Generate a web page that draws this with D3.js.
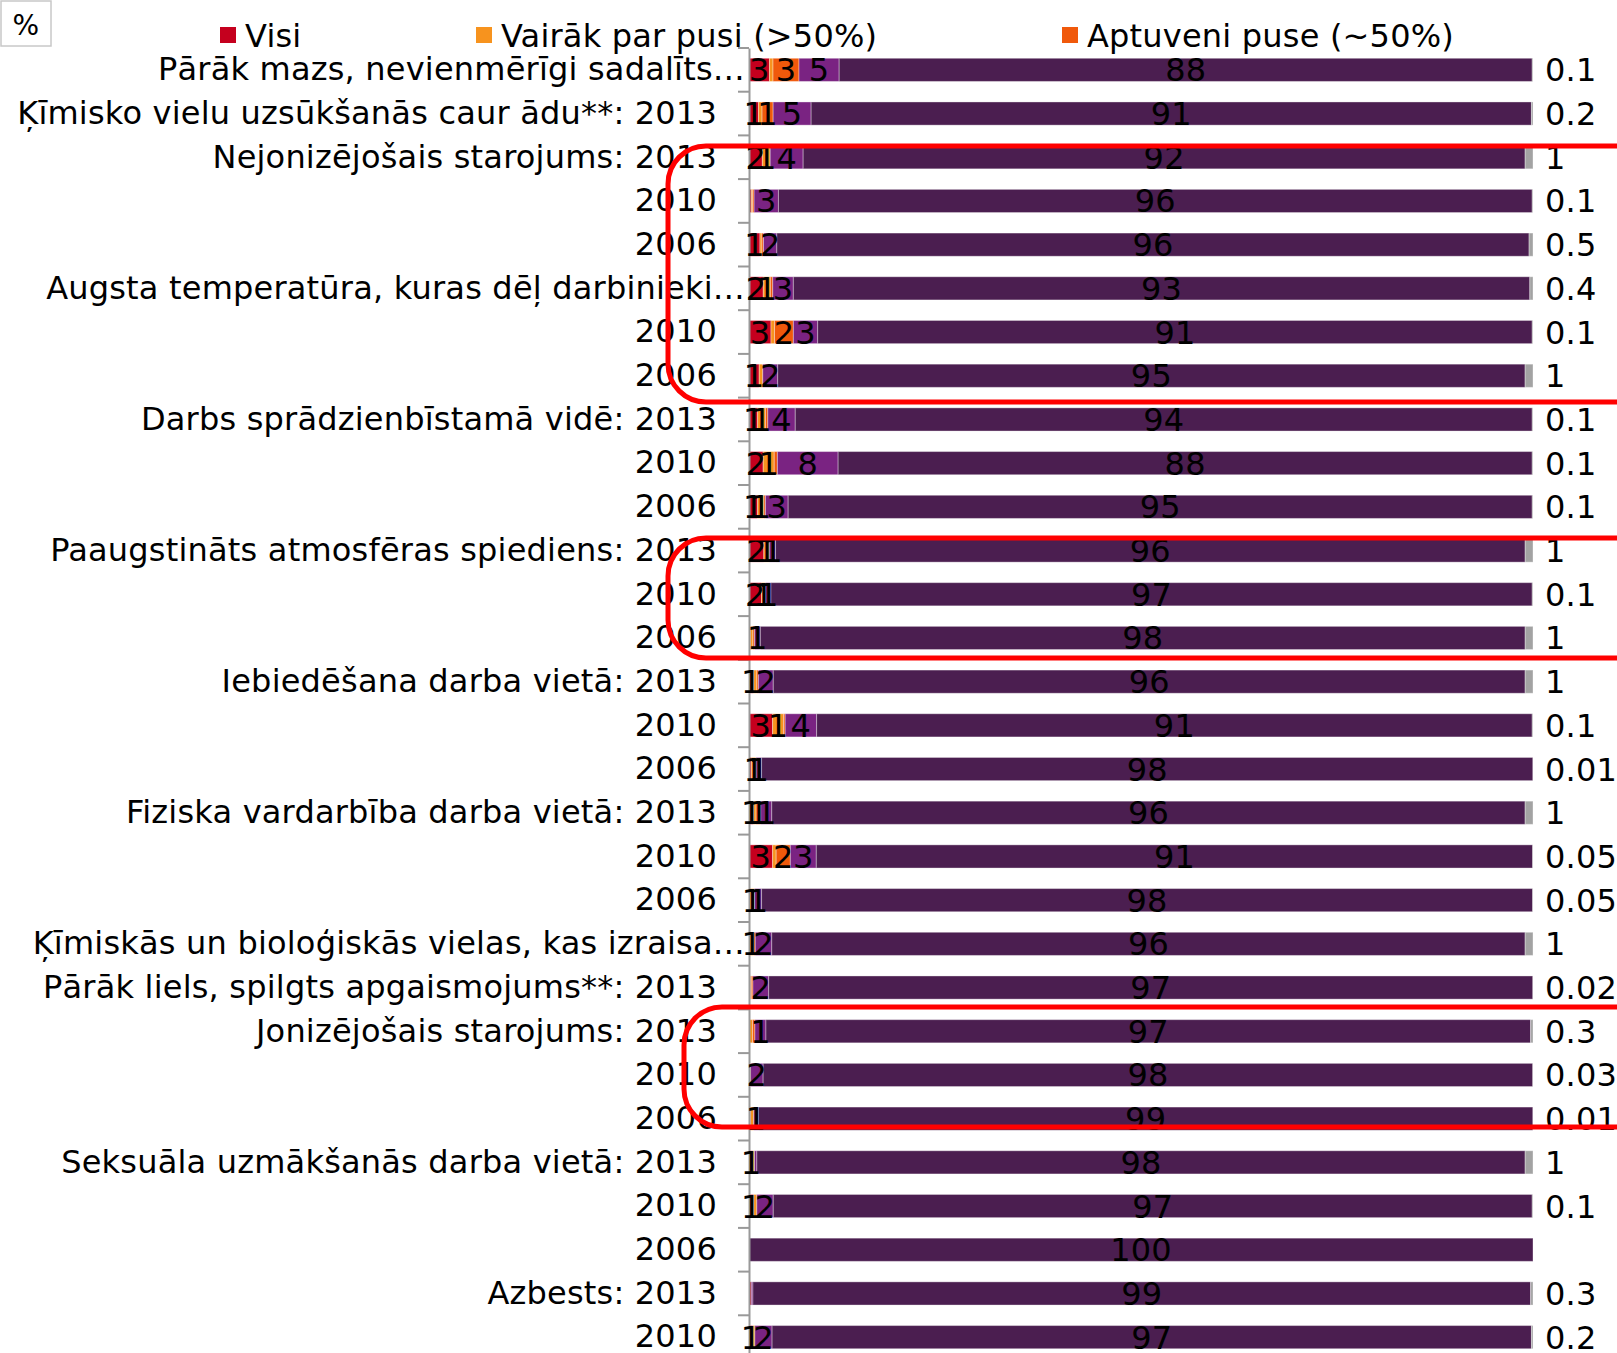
<!DOCTYPE html>
<html>
<head>
<meta charset="utf-8">
<script src="https://cdn.jsdelivr.net/npm/d3@7"></script>
<style>
  body { margin: 0; background: #fff; }
  svg { display: block; font-family: "DejaVu Sans", Verdana, sans-serif; letter-spacing: 0.2px; }
</style>
</head>
<body>
<div id="chart"></div>
<script>
// row labels (top to bottom)
const categories = [
    "Pārāk mazs, nevienmērīgi sadalīts…",
    "Ķīmisko vielu uzsūkšanās caur ādu**: 2013",
    "Nejonizējošais starojums: 2013", "2010", "2006",
    "Augsta temperatūra, kuras dēļ darbinieki…", "2010", "2006",
    "Darbs sprādzienbīstamā vidē: 2013", "2010", "2006",
    "Paaugstināts atmosfēras spiediens: 2013", "2010", "2006",
    "Iebiedēšana darba vietā: 2013", "2010", "2006",
    "Fiziska vardarbība darba vietā: 2013", "2010", "2006",
    "Ķīmiskās un bioloģiskās vielas, kas izraisa…",
    "Pārāk liels, spilgts apgaismojums**: 2013",
    "Jonizējošais starojums: 2013", "2010", "2006",
    "Seksuāla uzmākšanās darba vietā: 2013", "2010", "2006",
    "Azbests: 2013", "2010"
];

const seriesNames = ["Visi", "Vairāk par pusi (>50%)", "Aptuveni puse (~50%)",
    "Mazāk par pusi (<50%)", "Neviens", "Nezina"];

const visi      = [2.6, 1.2, 1.7, 0.3, 1.4, 1.8, 2.8, 1.3, 1.1, 1.8, 1.1, 1.9, 1.6, 0.2, 0.6, 3.0, 0.3, 0.6, 3.0, 0.1, 0.1, 0.2, 0, 0, 0.2, 0.5, 0.6, 0, 0.3, 0.5];
const vairak    = [0.45, 0.45, 1.0, 0.15, 0.25, 0.9, 0.45, 0.45, 1.0, 1.4, 0.8, 0.7, 0.5, 0.3, 0.4, 1.4, 0.6, 0.3, 0.45, 0.6, 0.5, 0.1, 0.45, 0.2, 0.4, 0.2, 0.4, 0, 0, 0.25];
const aptuveni  = [3.3, 1.4, 0, 0.2, 0.2, 0.3, 2.4, 0, 0.3, 0.4, 0.2, 0, 0, 0.2, 0.2, 0.2, 0, 0.6, 1.8, 0, 0.2, 0.2, 0.3, 0, 0, 0, 0, 0, 0, 0];
const mazak     = [5.1, 4.8, 4.2, 3.1, 1.7, 2.6, 3.1, 1.9, 3.5, 7.7, 2.9, 0.8, 0.7, 0.75, 1.9, 4.0, 0.7, 1.4, 3.3, 0.9, 2.1, 2.0, 1.4, 1.6, 0.6, 0.3, 2.1, 0, 0.2, 2.2];
const neviens   = [88, 91, 92, 96, 96, 93, 91, 95, 94, 88, 95, 96, 97, 98, 96, 91, 98, 96, 91, 98, 96, 97, 97, 98, 99, 98, 97, 100, 99, 97];
const nezina    = [0.1, 0.2, 1, 0.1, 0.5, 0.4, 0.1, 1, 0.1, 0.1, 0.1, 1, 0.1, 1, 1, 0.1, 0.01, 1, 0.05, 0.05, 1, 0.02, 0.3, 0.03, 0.01, 1, 0.1, 0, 0.3, 0.2];

const colors = ["#C5001E", "#F7931E", "#F0590B", "#7A2382", "#4B1E50", "#A3A3A3"];

const width = 1617, height = 1353;
const fontSize = 32;

const rows = categories.map((c, i) => ({
    idx: i,
    [seriesNames[0]]: visi[i],
    [seriesNames[1]]: vairak[i],
    [seriesNames[2]]: aptuveni[i],
    [seriesNames[3]]: mazak[i],
    [seriesNames[4]]: neviens[i],
    [seriesNames[5]]: nezina[i]
}));

const svg = d3.select("#chart").append("svg")
    .attr("width", width)
    .attr("height", height);

const x = d3.scaleLinear().domain([0, 1]).range([749, 1533]);
const y = d3.scaleBand()
    .domain(d3.range(categories.length))
    .range([48, 48 + 43.7 * categories.length])
    .paddingInner(0.47)
    .paddingOuter(0.235);

const stack = d3.stack().keys(seriesNames).offset(d3.stackOffsetExpand);
const stacked = stack(rows);

// bars
const layers = svg.append("g").selectAll("g")
    .data(stacked)
    .enter().append("g")
    .attr("fill", (d, i) => colors[i]);

layers.selectAll("rect")
    .data(d => d)
    .enter().append("rect")
    .attr("x", d => x(d[0]))
    .attr("y", d => y(d.data.idx))
    .attr("width", d => Math.max(0, x(d[1]) - x(d[0])))
    .attr("height", y.bandwidth())
    .attr("stroke", "#fff")
    .attr("stroke-opacity", 0.35)
    .attr("stroke-width", 1);

// category axis
const axis = d3.axisLeft(y)
    .tickSize(0)
    .tickPadding(32)
    .tickFormat(i => categories[i]);

const axisG = svg.append("g")
    .attr("transform", `translate(${x(0)},0)`)
    .call(axis);
axisG.select(".domain").attr("stroke", "#999").attr("stroke-width", 2);
axisG.selectAll("text")
    .attr("font-size", fontSize)
    .attr("fill", "#000")
    .attr("font-family", "DejaVu Sans, Verdana, sans-serif")
    // truncated labels run a bit closer to the axis
    .attr("dx", i => categories[i].endsWith("…") ? 28 : 0);

// tick marks on band boundaries
svg.append("g").selectAll("line")
    .data(d3.range(categories.length + 1))
    .enter().append("line")
    .attr("x1", x(0) - 11)
    .attr("x2", x(0))
    .attr("y1", i => 48 + 43.7 * i)
    .attr("y2", i => 48 + 43.7 * i)
    .attr("stroke", "#999")
    .attr("stroke-width", 2);

// value labels inside segments (first five series)
stacked.slice(0, 5).forEach(layer => {
    svg.append("g").selectAll("text")
        .data(layer.filter(d => d.data[layer.key] >= 0.5))
        .enter().append("text")
        .attr("x", d => (x(d[0]) + x(d[1])) / 2)
        .attr("y", d => y(d.data.idx) + y.bandwidth() / 2)
        .attr("text-anchor", "middle")
        .attr("dy", "0.36em")
        .attr("font-size", fontSize)
        .attr("fill", "#000")
        .text(d => Math.round(d.data[layer.key]));
});

// "Nezina" labels outside the bar
svg.append("g").selectAll("text")
    .data(rows.filter(r => r[seriesNames[5]] > 0))
    .enter().append("text")
    .attr("x", x(1) + 12)
    .attr("y", d => y(d.idx) + y.bandwidth() / 2)
    .attr("dy", "0.36em")
    .attr("font-size", fontSize)
    .attr("fill", "#000")
    .text(d => d[seriesNames[5]]);

// legend (only the first entries fit in the frame)
const legendPos = [220, 476, 1062];
const legend = svg.append("g").selectAll("g")
    .data(seriesNames.slice(0, 3))
    .enter().append("g")
    .attr("transform", (d, i) => `translate(${legendPos[i]},27)`);
legend.append("rect")
    .attr("width", 16).attr("height", 16)
    .attr("fill", (d, i) => colors[i]);
legend.append("text")
    .attr("x", 25).attr("y", 8)
    .attr("dy", "0.36em")
    .attr("font-size", fontSize)
    .text(d => d);

// "%" box
svg.append("rect")
    .attr("x", 1).attr("y", 1)
    .attr("width", 50).attr("height", 45)
    .attr("fill", "#fff")
    .attr("stroke", "#c8c8c8")
    .attr("stroke-width", 1.5);
svg.append("text")
    .attr("x", 26).attr("y", 25)
    .attr("dy", "0.36em")
    .attr("text-anchor", "middle")
    .attr("font-size", 28)
    .text("%");

// red highlight frames
const frames = [
    { x: 668, y: 146, h: 256 },
    { x: 668, y: 538, h: 120 },
    { x: 684, y: 1007, h: 120 }
];
svg.append("g").selectAll("rect")
    .data(frames)
    .enter().append("rect")
    .attr("x", d => d.x)
    .attr("y", d => d.y)
    .attr("width", 1100)
    .attr("height", d => d.h)
    .attr("rx", 38)
    .attr("fill", "none")
    .attr("stroke", "#FF0000")
    .attr("stroke-width", 5);
</script>
</body>
</html>
